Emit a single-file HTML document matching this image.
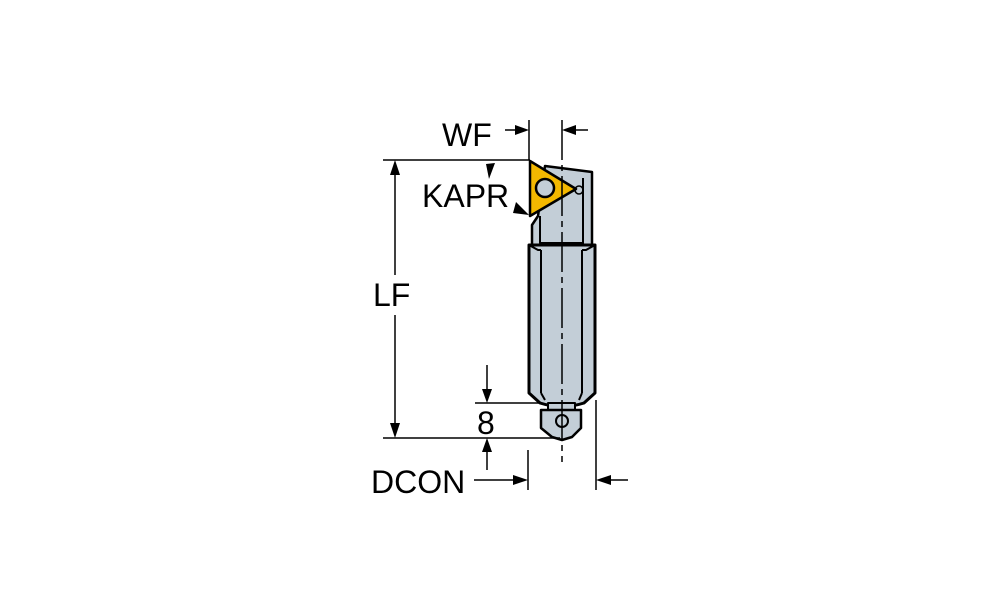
<!DOCTYPE html>
<html><head><style>body{margin:0;background:#fff}svg{display:block}</style></head><body>
<svg width="1000" height="611" viewBox="0 0 1000 611" xmlns="http://www.w3.org/2000/svg" font-family="Liberation Sans, sans-serif">
<g stroke="#000" stroke-linejoin="round">
<path d="M545,166 L592,172 L592,245 L532,245 L532,225 L538,216 L545,166Z" fill="#c3ced7" stroke-width="2.5"/>
<line x1="583" y1="178" x2="583" y2="245" stroke-width="2"/>
<path d="M540,216 L540,243 L583,243" fill="none" stroke-width="2"/>
<path d="M529,245 L595,245 L595,393 L584,403 Q562,410 540,403 L529,393Z" fill="#c3ced7" stroke-width="3"/>
<line x1="541" y1="250" x2="541" y2="393" stroke-width="2"/>
<line x1="582" y1="250" x2="582" y2="393" stroke-width="2"/>
<path d="M529,245 L538,250 L541,250 M595,245 L586,250 L582,250 M541,393 L545,400 M582,393 L579,400" fill="none" stroke-width="2"/>
<rect x="548" y="403" width="27" height="8" fill="#c3ced7" stroke-width="2"/>
<path d="M541,410 L581,410 L581,428 L572,437 L562,440 L552,437 L541,428Z" fill="#c3ced7" stroke-width="2.5"/>
<circle cx="562" cy="421" r="6" fill="none" stroke-width="2"/>
<path d="M530,161 L576,189 L530,216Z" fill="#f3b800" stroke-width="2.5"/>
<circle cx="545" cy="188" r="9" fill="#c3ced7" stroke-width="2.5"/>
<circle cx="579" cy="190" r="4" fill="none" stroke-width="1.5"/>
<line x1="562" y1="120" x2="562" y2="462" stroke-width="1.5" stroke-dasharray="40,5,6,5"/>
<line x1="529" y1="120" x2="529" y2="160" stroke-width="1.5"/>
<line x1="505" y1="130" x2="519" y2="130" stroke-width="1.5"/>
<line x1="574" y1="130" x2="588" y2="130" stroke-width="1.5"/>
<line x1="383" y1="160" x2="530" y2="160" stroke-width="1.5"/>
<line x1="383" y1="438" x2="560" y2="438" stroke-width="1.5"/>
<line x1="395" y1="172" x2="395" y2="275" stroke-width="1.5"/>
<line x1="395" y1="315" x2="395" y2="426" stroke-width="1.5"/>
<line x1="475" y1="403" x2="540" y2="403" stroke-width="1.5"/>
<line x1="487" y1="365" x2="487" y2="392" stroke-width="1.5"/>
<line x1="487" y1="450" x2="487" y2="470" stroke-width="1.5"/>
<line x1="528" y1="450" x2="528" y2="490" stroke-width="1.5"/>
<line x1="596" y1="400" x2="596" y2="490" stroke-width="1.5"/>
<line x1="474" y1="480" x2="516" y2="480" stroke-width="1.5"/>
<line x1="608" y1="480" x2="628" y2="480" stroke-width="1.5"/>
</g>
<g fill="#000">
<path d="M529,130 L515,125 L515,135Z"/>
<path d="M562,130 L576,125 L576,135Z"/>
<path d="M395,160 L390,175 L400,175Z"/>
<path d="M395,438 L390,423 L400,423Z"/>
<path d="M487,403 L482,389 L492,389Z"/>
<path d="M487,438 L482,452 L492,452Z"/>
<path d="M528,480 L513,475 L513,485Z"/>
<path d="M596,480 L611,475 L611,485Z"/>
<path d="M486,164 L495,163 L489,179Z"/>
<path d="M529,215 L516,202 L513,213Z"/>
</g>
<g font-size="32" fill="#000">
<text x="442" y="146">WF</text>
<text x="422" y="207">KAPR</text>
<text x="373" y="306">LF</text>
<text x="477" y="434">8</text>
<text x="371" y="493">DCON</text>
</g>
</svg>
</body></html>
